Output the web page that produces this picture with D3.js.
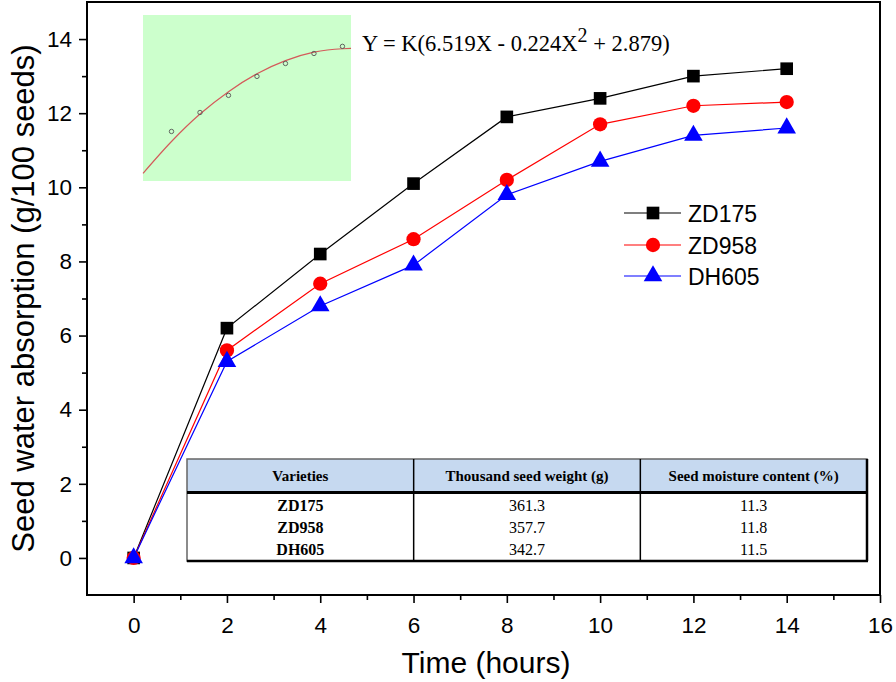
<!DOCTYPE html>
<html><head><meta charset="utf-8">
<script src="https://cdn.jsdelivr.net/npm/d3@7"></script>
<style>body{margin:0;background:#fff}svg{display:block}</style>
</head><body>
<svg id="c" width="896" height="682"></svg>
<script>
// ---- data ----
const hours = [0, 2, 4, 6, 8, 10, 12, 14];
const ZD175 = [0, 6.2, 8.2, 10.1, 11.9, 12.4, 13.0, 13.2];
const ZD958 = [0, 5.6, 7.4, 8.6, 10.2, 11.7, 12.2, 12.3];
const DH605 = [0, 5.3, 6.8, 7.9, 9.8, 10.7, 11.4, 11.6];
const seriesNames = ["ZD175", "ZD958", "DH605"];
const xTicks = [0, 2, 4, 6, 8, 10, 12, 14, 16];
const yTicks = [0, 2, 4, 6, 8, 10, 12, 14];
// inset (fitted model sketch)
const insetX = [2, 4, 6, 8, 10, 12, 14];
const insetObs = [18.8, 26.0, 32.5, 39.7, 44.6, 48.4, 51.1];
const insetCurveX = [0, 2, 4, 6, 8, 10, 12, 14, 14.6];
const insetCurveY = [2.9, 15.0, 25.4, 33.9, 40.7, 45.7, 48.9, 50.2, 50.3];
// table
const tableHeader = ["Varieties", "Thousand seed weight (g)", "Seed moisture content (%)"];
const tableVarieties = ["ZD175", "ZD958", "DH605"];
const tableWeight = ["361.3", "357.7", "342.7"];
const tableMoisture = ["11.3", "11.8", "11.5"];

const svg = d3.select("#c");
const L = 87, R = 880, T = 2, B = 595;
const x = d3.scaleLinear().domain([-1, 16]).range([L, R]);
const y = d3.scaleLinear().domain([-1, 15]).range([B, T]);
const sans = "Arial, 'Liberation Sans', sans-serif";
const serif = "'Times New Roman', 'Liberation Serif', serif";

// inset
const ix = d3.scaleLinear().domain([0, 14.6]).range([143, 351]);
const iy = d3.scaleLinear().domain([0, 63]).range([181, 15]);
svg.append("rect").attr("x", ix(0)).attr("y", iy(63)).attr("width", ix(14.6) - ix(0))
  .attr("height", iy(0) - iy(63)).attr("fill", "#ccffcc");
svg.append("path").datum(insetCurveX.map((v, i) => [v, insetCurveY[i]]))
  .attr("d", d3.line().x(d => ix(d[0])).y(d => iy(d[1])).curve(d3.curveMonotoneX))
  .attr("fill", "none").attr("stroke", "#d45a5a").attr("stroke-width", 1.2);
svg.selectAll(".obs").data(insetX).enter().append("circle")
  .attr("cx", d => ix(d)).attr("cy", (d, i) => iy(insetObs[i])).attr("r", 2.2)
  .attr("fill", "none").attr("stroke", "#555").attr("stroke-width", 0.9);

// equation
const eq = svg.append("text").attr("x", 362).attr("y", 51).attr("font-family", serif)
  .attr("font-size", 22.5).attr("fill", "#000");
eq.append("tspan").text("Y = K(6.519X - 0.224X");
eq.append("tspan").attr("dy", -9).attr("font-size", 20).text("2");
eq.append("tspan").attr("dy", 9).text(" + 2.879)");

// axes
const xAxis = d3.axisBottom(x).tickValues(xTicks).tickSize(8).tickFormat(d3.format("d"));
const gx = svg.append("g").attr("transform", `translate(0,${B})`).call(xAxis);
gx.select(".domain").remove();
gx.selectAll("line").attr("stroke-width", 1.6);
gx.selectAll("text").attr("font-family", sans).attr("font-size", 22.5).attr("y", 38).attr("dy", 0).attr("fill", "#000");
const gxm = svg.append("g").attr("transform", `translate(0,${B})`)
  .call(d3.axisBottom(x).tickValues(d3.range(1, 16, 2)).tickSize(5).tickFormat(""));
gxm.select(".domain").remove();
gxm.selectAll("line").attr("stroke-width", 1.6);

const yAxis = d3.axisLeft(y).tickValues(yTicks).tickSize(8).tickFormat(d3.format("d"));
const gy = svg.append("g").attr("transform", `translate(${L},0)`).call(yAxis);
gy.select(".domain").remove();
gy.selectAll("line").attr("stroke-width", 1.6);
gy.selectAll("text").attr("font-family", sans).attr("font-size", 22.5).attr("x", -15).attr("fill", "#000");
const gym = svg.append("g").attr("transform", `translate(${L},0)`)
  .call(d3.axisLeft(y).tickValues(d3.range(1, 15, 2)).tickSize(5).tickFormat(""));
gym.select(".domain").remove();
gym.selectAll("line").attr("stroke-width", 1.6);

// frame
svg.append("rect").attr("x", L).attr("y", T).attr("width", R - L).attr("height", B - T)
  .attr("fill", "none").attr("stroke", "#000").attr("stroke-width", 2);

// titles
svg.append("text").attr("x", 486).attr("y", 673).attr("text-anchor", "middle")
  .attr("font-family", sans).attr("font-size", 30).text("Time (hours)");
svg.append("text").attr("transform", `translate(34,${(T + B) / 2}) rotate(-90)`)
  .attr("text-anchor", "middle").attr("font-family", sans).attr("font-size", 31)
  .text("Seed water absorption (g/100 seeds)");

// table
const tL = 187, tR = 867, tT = 459, tH = 492.5, tB = 561;
const colW = (tR - tL) / 3;
const tg = svg.append("g");
tg.append("rect").attr("x", tL).attr("y", tT).attr("width", tR - tL).attr("height", tH - tT).attr("fill", "#c6d9f0");
tg.append("rect").attr("x", tL).attr("y", tT).attr("width", tR - tL).attr("height", tB - tT)
  .attr("fill", "none").attr("stroke", "#666").attr("stroke-width", 1.5);
tg.append("line").attr("x1", tL).attr("x2", tR + 1).attr("y1", tB).attr("y2", tB).attr("stroke", "#000").attr("stroke-width", 2.5);
tg.append("line").attr("x1", tR).attr("x2", tR).attr("y1", tT).attr("y2", tB).attr("stroke", "#000").attr("stroke-width", 2.5);
tg.append("line").attr("x1", tL).attr("x2", tR).attr("y1", tH).attr("y2", tH).attr("stroke", "#000").attr("stroke-width", 3);
[1, 2].forEach(i => tg.append("line").attr("x1", tL + colW * i).attr("x2", tL + colW * i)
  .attr("y1", tT).attr("y2", tB).attr("stroke", "#000").attr("stroke-width", 1.5));
tableHeader.forEach((h, i) => tg.append("text").attr("x", tL + colW * (i + 0.5)).attr("y", 481)
  .attr("text-anchor", "middle").attr("font-family", serif).attr("font-weight", "bold")
  .attr("font-size", 15).text(h));
const rowY = [510.5, 532.5, 554.5];
tableVarieties.forEach((v, i) => {
  tg.append("text").attr("x", tL + colW * 0.5).attr("y", rowY[i]).attr("text-anchor", "middle")
    .attr("font-family", serif).attr("font-weight", "bold").attr("font-size", 16).text(v);
  tg.append("text").attr("x", tL + colW * 1.5).attr("y", rowY[i]).attr("text-anchor", "middle")
    .attr("font-family", serif).attr("font-size", 16).text(tableWeight[i]);
  tg.append("text").attr("x", tL + colW * 2.5).attr("y", rowY[i]).attr("text-anchor", "middle")
    .attr("font-family", serif).attr("font-size", 16).text(tableMoisture[i]);
});

// series
const colors = ["#000000", "#ff0000", "#0000ff"];
const symbols = [d3.symbolSquare, d3.symbolCircle, d3.symbolTriangle];
const symSize = [160, 160, 150];
const data = [ZD175, ZD958, DH605];
const line = d3.line().x((d, i) => x(hours[i])).y(d => y(d));
data.forEach((s, k) => {
  svg.append("path").datum(s).attr("d", line).attr("fill", "none")
    .attr("stroke", colors[k]).attr("stroke-width", 1.2);
});
data.forEach((s, k) => {
  svg.selectAll(".m" + k).data(s).enter().append("path")
    .attr("transform", (d, i) => `translate(${x(hours[i])},${y(d)})`)
    .attr("d", d3.symbol(symbols[k], symSize[k])).attr("fill", colors[k]);
});

// legend
const legY = [213, 245, 276];
seriesNames.forEach((n, k) => {
  svg.append("line").attr("x1", 624).attr("x2", 681).attr("y1", legY[k]).attr("y2", legY[k])
    .attr("stroke", colors[k]).attr("stroke-width", 1.2);
  svg.append("path").attr("transform", `translate(653,${legY[k]})`)
    .attr("d", d3.symbol(symbols[k], symSize[k])).attr("fill", colors[k]);
  svg.append("text").attr("x", 688).attr("y", legY[k] + 8.5).attr("font-family", sans)
    .attr("font-size", 23).text(n);
});
</script>
</body></html>
